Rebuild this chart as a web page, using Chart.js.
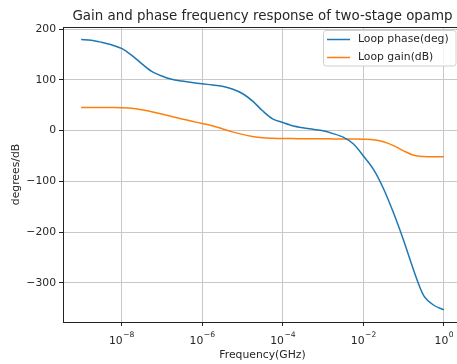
<!DOCTYPE html>
<html>
<head>
<meta charset="utf-8">
<script src="https://cdn.jsdelivr.net/npm/chart.js@4/dist/chart.umd.min.js"></script>
<style>
  html, body { margin: 0; padding: 0; overflow: hidden; background: #fff; }
  #wrap { width: 470px; height: 364px; position: relative; }
</style>
</head>
<body>
<div id="wrap"><canvas id="c"></canvas></div>
<script>
// Frequency sweep (GHz), quarter-decade steps
const freqGHz = [1e-9, 1.778e-9, 3.162e-9, 5.623e-9, 1e-8, 1.778e-8, 3.162e-8, 5.623e-8,
  1e-7, 1.778e-7, 3.162e-7, 5.623e-7, 1e-6, 1.778e-6, 3.162e-6, 5.623e-6,
  1e-5, 1.778e-5, 3.162e-5, 5.623e-5, 1e-4, 1.778e-4, 3.162e-4, 5.623e-4,
  1e-3, 1.778e-3, 3.162e-3, 5.623e-3, 1e-2, 1.778e-2, 3.162e-2, 5.623e-2,
  0.1, 0.1778, 0.3162, 0.5623, 1];

// Loop phase in degrees
const loopPhaseDeg = [179.5, 178, 174, 169, 161.8, 148.5, 132, 116.5,
  107.5, 101, 97.5, 94.5, 92, 90, 87.5, 82,
  73, 58.5, 39, 23, 16, 9.5, 5.5, 2.5,
  -0.5, -6, -13, -26, -49.5, -76, -114, -162,
  -216, -275, -325, -344, -353];

// Loop gain in dB
const loopGainDB = [45.5, 45.5, 45.5, 45.3, 45, 44, 41, 37,
  32.5, 27.7, 23, 18.4, 14, 9.5, 3.5, -2.5,
  -7.5, -11.5, -14, -15, -15.5, -15.7, -16, -16,
  -16.2, -16.4, -16.5, -16.7, -17, -18, -22, -29.5,
  -40, -48.5, -51, -51.5, -51.5];

const xTickValues = [1e-8, 1e-6, 1e-4, 1e-2, 1];
const xTickExponents = ['\u22128', '\u22126', '\u22124', '\u22122', '0'];
const yTickValues = [-300, -200, -100, 0, 100, 200];

const seriesNames = ['Loop phase(deg)', 'Loop gain(dB)'];
const seriesColors = ['#1f77b4', '#ff7f0e'];
const titleText = 'Gain and phase frequency response of two-stage opamp';
const xLabel = 'Frequency(GHz)';
const yLabel = 'degrees/dB';

const FONT = '"DejaVu Sans", sans-serif';
const TEXT = '#262626';
const LABEL_PX = 10.8;

const toPoints = ys => freqGHz.map((f, i) => ({ x: f, y: ys[i] }));

// Decorations: top spine, title, axis labels, x tick labels with exponents, legend
const decor = {
  id: 'decor',
  afterDraw(chart) {
    const ctx = chart.ctx;
    const a = chart.chartArea;
    const xs = chart.scales.x;
    ctx.save();
    // top and right spines
    ctx.strokeStyle = '#222';
    ctx.lineWidth = 1;
    ctx.beginPath();
    ctx.moveTo(a.left, a.top + 0.5);
    ctx.lineTo(a.right, a.top + 0.5);
    ctx.lineTo(a.right, a.bottom);
    ctx.stroke();

    // title
    ctx.fillStyle = TEXT;
    ctx.font = '13.4px ' + FONT;
    ctx.textAlign = 'center';
    ctx.textBaseline = 'alphabetic';
    ctx.fillText(titleText, (a.left + a.right) / 2, 20);

    // x tick labels: 10 with superscript exponent
    xTickValues.forEach((v, i) => {
      const px = xs.getPixelForValue(v);
      ctx.font = LABEL_PX + 'px ' + FONT;
      const wBase = ctx.measureText('10').width;
      ctx.font = '7.6px ' + FONT;
      const wExp = ctx.measureText(xTickExponents[i]).width;
      const x0 = px - (wBase + wExp) / 2;
      ctx.textAlign = 'left';
      ctx.font = LABEL_PX + 'px ' + FONT;
      ctx.fillText('10', x0, 343.5);
      ctx.font = '7.6px ' + FONT;
      ctx.fillText(xTickExponents[i], x0 + wBase + 0.5, 337);
    });

    // axis labels
    ctx.font = LABEL_PX + 'px ' + FONT;
    ctx.textAlign = 'center';
    ctx.textBaseline = 'alphabetic';
    ctx.fillText(xLabel, (a.left + a.right) / 2, 357.5);
    ctx.save();
    ctx.translate(19, (a.top + a.bottom) / 2);
    ctx.rotate(-Math.PI / 2);
    ctx.fillText(yLabel, 0, 0);
    ctx.restore();

    // legend box
    const lx = 323.5, ly = 30.5, lw = 132.5, lh = 35.5, r = 2.5;
    ctx.beginPath();
    ctx.moveTo(lx + r, ly);
    ctx.lineTo(lx + lw - r, ly);
    ctx.quadraticCurveTo(lx + lw, ly, lx + lw, ly + r);
    ctx.lineTo(lx + lw, ly + lh - r);
    ctx.quadraticCurveTo(lx + lw, ly + lh, lx + lw - r, ly + lh);
    ctx.lineTo(lx + r, ly + lh);
    ctx.quadraticCurveTo(lx, ly + lh, lx, ly + lh - r);
    ctx.lineTo(lx, ly + r);
    ctx.quadraticCurveTo(lx, ly, lx + r, ly);
    ctx.closePath();
    ctx.fillStyle = 'rgba(255,255,255,0.8)';
    ctx.fill();
    ctx.strokeStyle = '#d0d0d0';
    ctx.lineWidth = 1;
    ctx.stroke();

    seriesNames.forEach((name, i) => {
      const yy = 39.5 + i * 18;
      ctx.strokeStyle = seriesColors[i];
      ctx.lineWidth = 1.5;
      ctx.beginPath();
      ctx.moveTo(327, yy);
      ctx.lineTo(350, yy);
      ctx.stroke();
      ctx.fillStyle = TEXT;
      ctx.font = LABEL_PX + 'px ' + FONT;
      ctx.textAlign = 'left';
      ctx.textBaseline = 'middle';
      ctx.fillText(name, 358, yy);
    });
    ctx.restore();
  }
};

new Chart(document.getElementById('c'), {
  type: 'line',
  data: {
    datasets: [
      { label: seriesNames[0], data: toPoints(loopPhaseDeg), borderColor: seriesColors[0] },
      { label: seriesNames[1], data: toPoints(loopGainDB), borderColor: seriesColors[1] }
    ]
  },
  options: {
    responsive: true,
    maintainAspectRatio: false,
    devicePixelRatio: 1,
    animation: false,
    events: [],
    layout: { padding: { top: 27, right: 8, left: 0, bottom: 0 } },
    elements: {
      point: { radius: 0 },
      line: { borderWidth: 1.5, tension: 0.3, fill: false }
    },
    plugins: { legend: { display: false }, title: { display: false }, tooltip: { enabled: false } },
    scales: {
      x: {
        type: 'logarithmic',
        min: Math.pow(10, -9.45),
        max: Math.pow(10, 0.45),
        afterBuildTicks: s => { s.ticks = xTickValues.map(v => ({ value: v })); },
        afterFit: s => { s.height = 42; },
        ticks: { display: false },
        grid: { color: '#c8c8c8', lineWidth: 1, drawTicks: true, tickLength: 4, tickColor: '#222', tickWidth: 1 },
        border: { display: true, color: '#222', width: 1 }
      },
      y: {
        type: 'linear',
        min: -377,
        max: 204,
        afterBuildTicks: s => { s.ticks = yTickValues.map(v => ({ value: v })); },
        afterFit: s => { s.width = 63; },
        ticks: {
          color: TEXT,
          font: { family: FONT, size: LABEL_PX },
          padding: 3,
          callback: v => String(v).replace('-', '\u2212')
        },
        grid: { color: '#c8c8c8', lineWidth: 1, drawTicks: true, tickLength: 4, tickColor: '#222', tickWidth: 1 },
        border: { display: true, color: '#222', width: 1 }
      }
    }
  },
  plugins: [decor]
});
</script>
</body>
</html>
